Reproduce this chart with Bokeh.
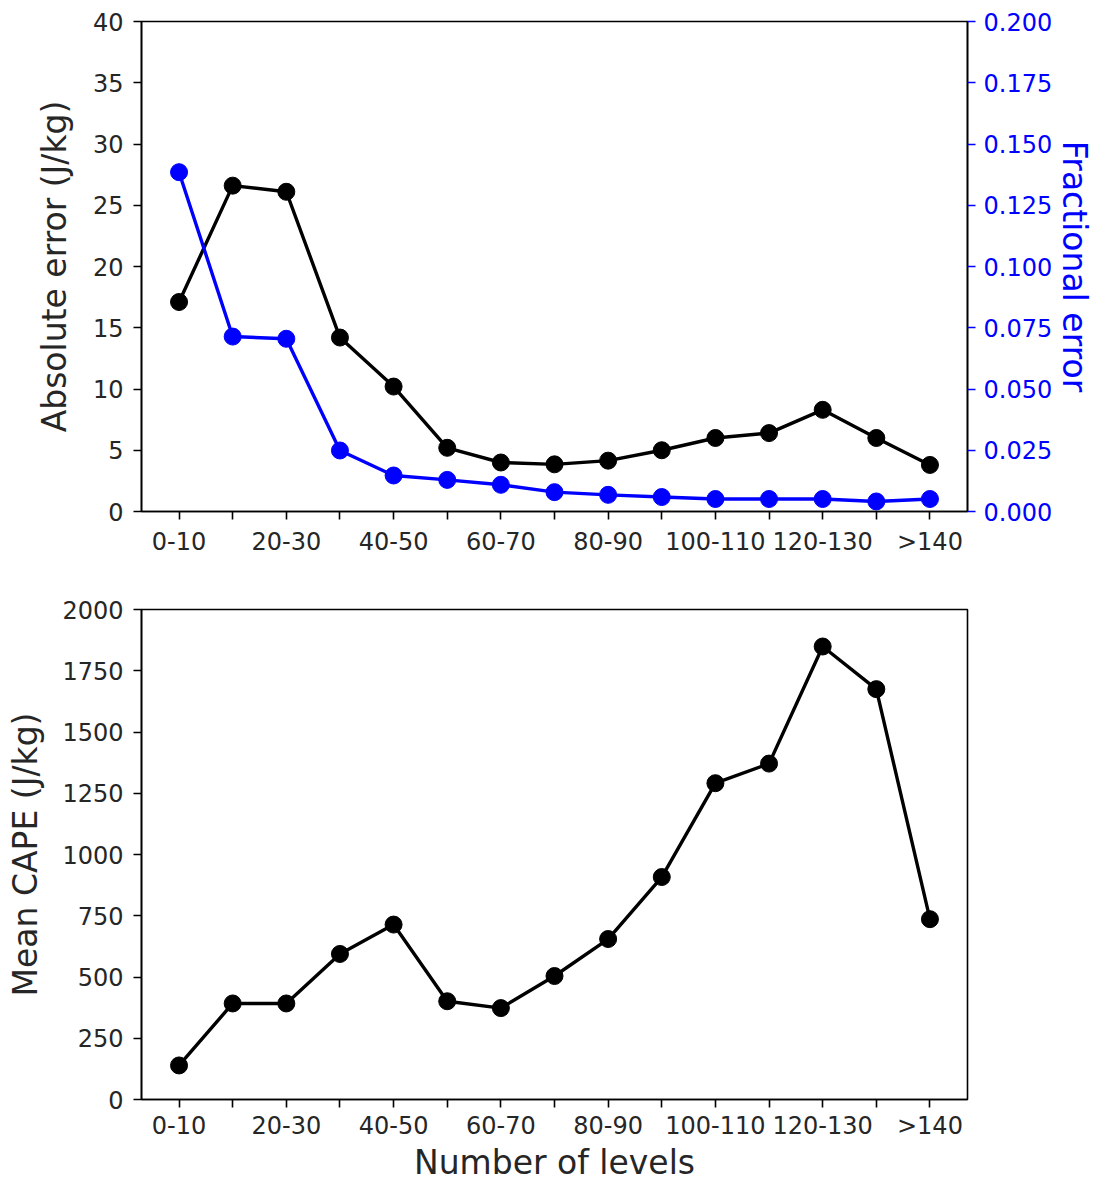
from bokeh.plotting import figure
from bokeh.layouts import column
from bokeh.models import Range1d, LinearAxis, FixedTicker, PrintfTickFormatter
from bokeh.embed import file_html
from bokeh.resources import INLINE

categories = ["0-10", "10-20", "20-30", "30-40", "40-50", "50-60", "60-70", "70-80",
              "80-90", "90-100", "100-110", "110-120", "120-130", "130-140", ">140"]
absolute_error = [17.1, 26.6, 26.1, 14.2, 10.2, 5.2, 4.0, 3.85, 4.15, 5.0, 6.0, 6.4, 8.3, 6.0, 3.8]
fractional_error = [0.1385, 0.0714, 0.0705, 0.0249, 0.0147, 0.0129, 0.0109, 0.0079,
                    0.0068, 0.0059, 0.0051, 0.0051, 0.0051, 0.0041, 0.0051]
mean_cape = [139, 392, 392, 594, 714, 401, 373, 504, 655, 908, 1291, 1371, 1849, 1675, 736]

abs_ticks = [0, 5, 10, 15, 20, 25, 30, 35, 40]
frac_ticks = [0.0, 0.025, 0.05, 0.075, 0.1, 0.125, 0.15, 0.175, 0.2]
cape_ticks = [0, 250, 500, 750, 1000, 1250, 1500, 1750, 2000]

x = list(range(len(categories)))
x_labels = {i: (c if i % 2 == 0 else "") for i, c in enumerate(categories)}

FONT = "DejaVu Sans"
TICK_SIZE = "24px"
LABEL_SIZE = "33px"
BLUE = "#0000ff"
TEXT = "#262626"


def style_axis(ax):
    ax.major_label_text_font = FONT
    ax.major_label_text_font_size = TICK_SIZE
    ax.major_label_text_color = TEXT
    ax.axis_label_text_font = FONT
    ax.axis_label_text_font_size = LABEL_SIZE
    ax.axis_label_text_font_style = "normal"
    ax.axis_label_text_color = TEXT
    ax.major_tick_in = 0
    ax.major_tick_out = 8
    ax.major_tick_line_width = 1.6
    ax.major_tick_line_color = "black"
    ax.minor_tick_line_color = None
    ax.axis_line_color = "black"
    ax.axis_line_width = 1.6


def base_fig(height, top, bottom, yr):
    p = figure(width=1097, height=height, output_backend="svg", toolbar_location=None,
               x_range=Range1d(-0.7, 14.7), y_range=Range1d(*yr),
               min_border_left=141, min_border_right=128,
               min_border_top=top, min_border_bottom=bottom)
    p.xgrid.grid_line_color = None
    p.ygrid.grid_line_color = None
    p.outline_line_color = "black"
    p.outline_line_width = 1.6
    p.outline_line_alpha = 1.0
    p.background_fill_color = "white"
    p.border_fill_color = "white"
    xa = p.xaxis[0]
    xa.ticker = FixedTicker(ticks=x)
    xa.major_label_overrides = x_labels
    xa.major_label_standoff = 8
    style_axis(xa)
    ya = p.yaxis[0]
    style_axis(ya)
    ya.major_label_standoff = 10
    return p


# ---------- top panel ----------
p1 = base_fig(560, 21, 49, (0, 40))
p1.yaxis[0].ticker = FixedTicker(ticks=abs_ticks)
p1.yaxis[0].axis_label = "Absolute error (J/kg)"
p1.yaxis[0].axis_label_standoff = 16
p1.extra_y_ranges = {"frac": Range1d(0, 0.2)}
ra = LinearAxis(y_range_name="frac", ticker=FixedTicker(ticks=frac_ticks),
                formatter=PrintfTickFormatter(format="%.3f"),
                axis_label="Fractional error")
style_axis(ra)
ra.major_label_standoff = 8
ra.axis_label_standoff = 0
ra.major_label_text_color = BLUE
ra.major_tick_line_color = BLUE
ra.axis_label_text_color = BLUE
p1.add_layout(ra, "right")

p1.line(x, absolute_error, line_color="black", line_width=3.4)
p1.scatter(x, absolute_error, size=17, fill_color="black", line_color="black")
p1.line(x, fractional_error, line_color=BLUE, line_width=3.4, y_range_name="frac")
p1.scatter(x, fractional_error, size=17, fill_color=BLUE, line_color=BLUE, y_range_name="frac")

# ---------- bottom panel ----------
p2 = base_fig(624, 49, 85, (0, 2000))
p2.yaxis[0].ticker = FixedTicker(ticks=cape_ticks)
p2.yaxis[0].axis_label = "Mean CAPE (J/kg)"
p2.yaxis[0].axis_label_standoff = 14
p2.xaxis[0].axis_label = "Number of levels"
p2.xaxis[0].axis_label_standoff = 0
p2.xaxis[0].major_label_standoff = 4

p2.line(x, mean_cape, line_color="black", line_width=3.4)
p2.scatter(x, mean_cape, size=17, fill_color="black", line_color="black")

layout = column(p1, p2, spacing=0)
open("out.html", "w").write(file_html(layout, INLINE))
